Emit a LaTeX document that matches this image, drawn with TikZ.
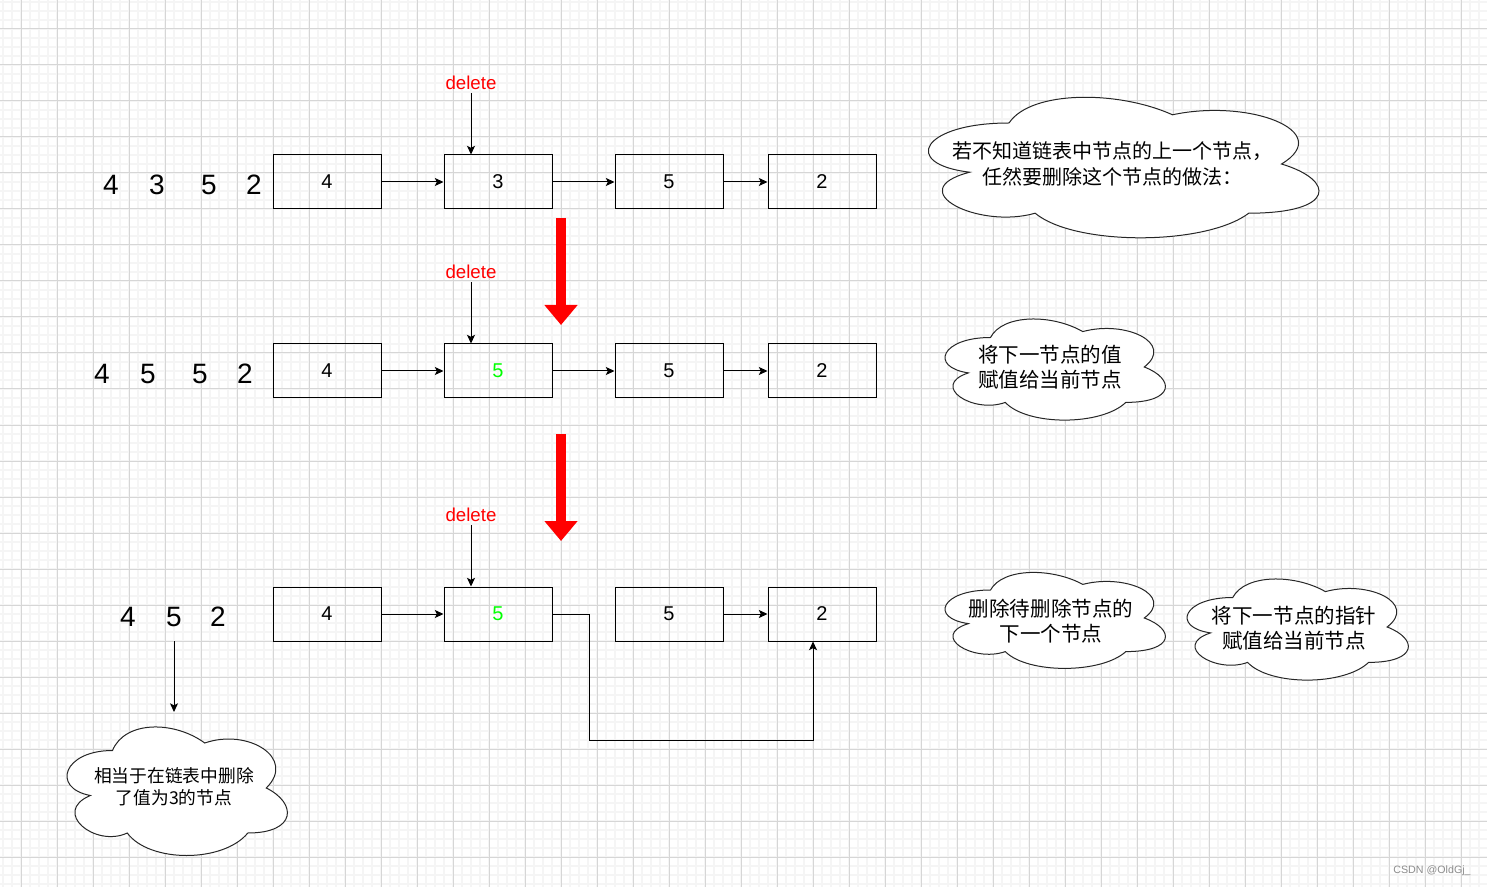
\documentclass[tikz,border=0pt]{standalone}
\usepackage{fontspec}
\setmainfont{Liberation Sans}
\newfontfamily\cjk{Noto Sans CJK SC}
\usepackage{tikz}
\usetikzlibrary{calc}
\usetikzlibrary{arrows.meta}

% draw.io style cloud: x0, y0, width, height (in pixels)
\newcommand{\drawcloud}[4]{%
  \begin{scope}[shift={(#1,#2)},x=#3*0.75pt,y=-#4*0.75pt]
    \draw[cloudline] (0.25,0.25) .. controls (0.05,0.25) and (0,0.5) .. (0.16,0.55)
      .. controls (0,0.66) and (0.18,0.9) .. (0.31,0.8)
      .. controls (0.4,1) and (0.7,1) .. (0.8,0.8)
      .. controls (1,0.8) and (1,0.6) .. (0.875,0.5)
      .. controls (1,0.3) and (0.8,0.1) .. (0.625,0.2)
      .. controls (0.5,0.05) and (0.3,0.05) .. cycle;
  \end{scope}}

\begin{document}
\begin{tikzpicture}[x=0.75pt,y=-0.75pt,
	box/.style={draw,line width=0.75pt,minimum width=81pt,minimum height=40.5pt,inner sep=0pt,font=\fontsize{15}{18}\selectfont},
	bignum/.style={minimum height=36pt,inner sep=0pt,font=\fontsize{21}{25}\selectfont},
	deltext/.style={red,inner sep=2pt,font=\fontsize{14}{17}\selectfont},
	arr/.style={-{Stealth[length=6.5pt,width=6pt,inset=1.5pt]},line width=0.75pt},
	bigarrow/.style={red,line width=7.5pt,-{Triangle[length=15pt,width=24pt]}},
	cloudline/.style={draw=black!85,fill=white,line width=0.75pt},
	cloudtext/.style={align=center,font={\cjk\fontsize{15.4}{19}\selectfont}},
	minorgrid/.style={black!4,line width=1.2pt},
	majorgrid/.style={black!16,line width=0.75pt}]
	\useasboundingbox (0,0) rectangle (1487,887);
	\fill[white] (0,0) rectangle (1487,887);
	
	% grid
	\foreach \gx in {3,12,...,1487} \draw[minorgrid] (\gx,0) -- (\gx,887);
	\foreach \gy in {2,11,...,887} \draw[minorgrid] (0,\gy) -- (1487,\gy);
	\foreach \gx in {21,57,...,1487} \draw[majorgrid] (\gx,0) -- (\gx,887);
	\foreach \gy in {29,65,...,887} \draw[majorgrid] (0,\gy) -- (1487,\gy);
	
	% first list
	\node[bignum] (n1a) at (111,185) {4};
	\node[bignum] (n1b) at (157,185) {3};
	\node[bignum] (n1c) at (209,185) {5};
	\node[bignum] (n1d) at (254,185) {2};
	\node[box] (r1a) at (327,182) {4};
	\node[box] (r1b) at (498,182) {3};
	\node[box] (r1c) at (669,182) {5};
	\node[box] (r1d) at (822,182) {2};
	\draw[arr] (r1a.east) -- (r1b.west);
	\draw[arr] (r1b.east) -- (r1c.west);
	\draw[arr] (r1c.east) -- (r1d.west);
	\node[deltext] (del1) at (471,83) {delete};
	\draw[arr] (del1.south) -- (del1 |- r1b.north);
	
	\coordinate (down1a) at (561,218);
	\coordinate (down1b) at (561,325);
	\draw[bigarrow] (down1a) -- (down1b);
	
	% second list
	\node[bignum] (n2a) at (102,374) {4};
	\node[bignum] (n2b) at (148,374) {5};
	\node[bignum] (n2c) at (200,374) {5};
	\node[bignum] (n2d) at (245,374) {2};
	\node[box] (r2a) at (327,371) {4};
	\node[box,text=green] (r2b) at (498,371) {5};
	\node[box] (r2c) at (669,371) {5};
	\node[box] (r2d) at (822,371) {2};
	\draw[arr] (r2a.east) -- (r2b.west);
	\draw[arr] (r2b.east) -- (r2c.west);
	\draw[arr] (r2c.east) -- (r2d.west);
	\node[deltext] (del2) at (471,272) {delete};
	\draw[arr] (del2.south) -- (del2 |- r2b.north);
	
	\coordinate (down2a) at (561,434);
	\coordinate (down2b) at (561,541);
	\draw[bigarrow] (down2a) -- (down2b);
	
	% third list
	\node[bignum] (n3a) at (128,617) {4};
	\node[bignum] (n3b) at (174,617) {5};
	\node[bignum] (n3c) at (218,617) {2};
	\node[box] (r3a) at (327,614) {4};
	\node[box,text=green] (r3b) at (498,614) {5};
	\node[box] (r3c) at (669,614) {5};
	\node[box] (r3d) at (822,614) {2};
	\draw[arr] (r3a.east) -- (r3b.west);
	\draw[arr] (r3c.east) -- (r3d.west);
	\node[deltext] (del3) at (471,515) {delete};
	\draw[arr] (del3.south) -- (del3 |- r3b.north);
	\coordinate (skip) at (589,740);
	\draw[arr] (r3b.east) -| (skip) -| ($(r3d.south)+(-9,0)$);
	\coordinate (note) at (174,712);
	\draw[arr] (n3b.south) -- (note);
	
	% clouds
	\drawcloud{900}{82}{436}{164}
	\node[cloudtext,font={\cjk\fontsize{15}{19}\selectfont}] (tip1) at (1112,164) {若不知道链表中节点的上一个节点，\\任然要删除这个节点的做法：};
	\drawcloud{929}{308}{246}{118}
	\node[cloudtext] (tip2) at (1050,367) {将下一节点的值\\赋值给当前节点};
	\drawcloud{929}{562}{246}{112}
	\node[cloudtext] (tip3) at (1051,621) {删除待删除节点的\\下一个节点};
	\drawcloud{1171}{568}{247}{118}
	\node[cloudtext] (tip4) at (1294,628) {将下一节点的指针\\赋值给当前节点};
	\drawcloud{51}{713}{246}{150}
	\node[cloudtext,font={\cjk\fontsize{13.3}{16.3}\selectfont}] (tip5) at (174,787) {相当于在链表中删除\\了值为3的节点};
	
	\node[black!45,font=\fontsize{8}{10}\selectfont] (mark) at (1432,871) {CSDN @OldGj\_};
\end{tikzpicture}
\end{document}
